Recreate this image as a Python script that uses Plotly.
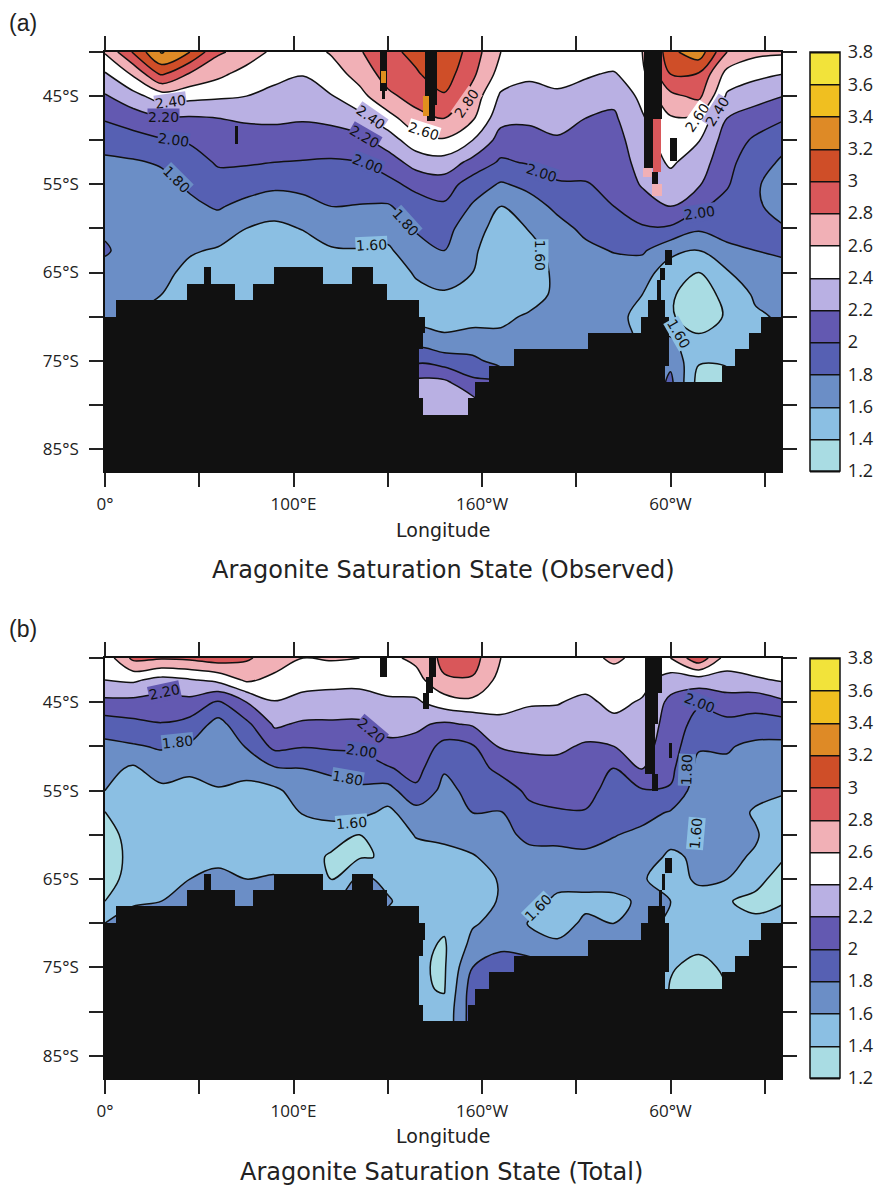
import numpy as np
import plotly.graph_objects as go

W, H = 877, 1187

lat_rows = [40, 42.5, 45, 47.5, 50, 52.5, 55, 57.5, 60, 62.5, 65, 67.5, 70, 72.5, 75, 77.5, 80, 82.5]
lon_cols = [0, 15, 30, 45, 60, 75, 90, 105, 120, 135, 150, 165, 180, 195, 210, 225, 240, 255, 270, 285, 300, 315, 330, 345, 360]

# Observed: value per latitude row, one list per longitude
obs_000 = [2.62,2.38,2.18,2.02,1.88,1.76,1.72,1.70,1.76,1.83,1.72,1.68,1.66,1.60,1.60,1.60,1.60,1.60]
obs_015 = [3.02,2.63,2.33,2.10,1.92,1.78,1.72,1.70,1.70,1.69,1.67,1.65,1.60,1.60,1.60,1.60,1.60,1.60]
obs_030 = [3.42,3.03,2.50,2.18,1.98,1.82,1.74,1.72,1.70,1.68,1.65,1.60,1.55,1.55,1.55,1.55,1.55,1.55]
obs_045 = [3.20,2.78,2.46,2.18,2.02,1.92,1.83,1.76,1.68,1.62,1.55,1.50,1.50,1.50,1.50,1.50,1.50,1.50]
obs_060 = [2.83,2.65,2.43,2.20,2.10,2.02,1.93,1.82,1.70,1.58,1.50,1.48,1.48,1.48,1.48,1.48,1.48,1.48]
obs_075 = [2.72,2.52,2.40,2.23,2.10,2.02,1.89,1.74,1.60,1.50,1.47,1.45,1.45,1.45,1.45,1.45,1.45,1.45]
obs_090 = [2.55,2.47,2.33,2.24,2.10,2.00,1.84,1.70,1.55,1.47,1.45,1.45,1.45,1.45,1.45,1.45,1.45,1.45]
obs_105 = [2.50,2.41,2.30,2.22,2.10,1.99,1.86,1.73,1.61,1.50,1.45,1.45,1.45,1.45,1.45,1.45,1.45,1.45]
obs_120 = [2.62,2.50,2.39,2.25,2.10,1.98,1.89,1.80,1.70,1.58,1.50,1.45,1.45,1.45,1.45,1.45,1.45,1.45]
obs_135 = [2.78,2.68,2.53,2.34,2.14,2.00,1.90,1.79,1.69,1.59,1.52,1.47,1.47,1.47,1.47,1.47,1.47,1.47]
obs_150 = [2.95,2.88,2.76,2.52,2.30,2.10,1.94,1.78,1.68,1.57,1.50,1.47,1.47,1.47,1.47,1.47,1.47,1.47]
obs_165 = [3.05,2.98,2.87,2.74,2.52,2.28,2.06,1.90,1.82,1.72,1.62,1.55,1.52,1.70,1.95,2.25,2.30,2.30]
obs_180 = [3.18,3.10,2.98,2.80,2.58,2.32,2.10,1.97,1.87,1.80,1.68,1.58,1.55,1.62,1.90,2.25,2.30,2.30]
obs_195 = [2.90,2.84,2.72,2.63,2.40,2.14,1.90,1.78,1.68,1.63,1.60,1.50,1.55,1.65,1.85,2.05,2.30,2.30]
obs_210 = [2.60,2.52,2.37,2.26,2.12,1.97,1.78,1.60,1.52,1.48,1.47,1.48,1.55,1.65,1.72,2.00,2.00,2.00]
obs_225 = [2.56,2.43,2.34,2.24,2.12,2.02,1.85,1.72,1.61,1.52,1.48,1.50,1.63,1.70,1.70,1.70,1.70,1.70]
obs_240 = [2.58,2.48,2.36,2.27,2.18,2.09,1.98,1.84,1.74,1.68,1.65,1.65,1.68,1.70,1.70,1.70,1.70,1.70]
obs_255 = [2.55,2.42,2.33,2.20,2.13,2.06,1.99,1.93,1.84,1.76,1.72,1.70,1.70,1.70,1.70,1.70,1.70,1.70]
obs_270 = [2.55,2.38,2.25,2.17,2.12,2.08,2.04,2.00,1.90,1.81,1.72,1.66,1.62,1.65,1.65,1.65,1.65,1.65]
obs_285 = [2.60,2.55,2.45,2.38,2.32,2.28,2.22,2.10,1.98,1.83,1.68,1.60,1.58,1.58,1.58,1.58,1.58,1.58]
obs_300 = [3.15,3.00,2.75,2.58,2.50,2.43,2.32,2.20,1.97,1.65,1.50,1.42,1.42,1.62,1.75,1.85,1.85,1.85]
obs_315 = [3.32,2.98,2.85,2.55,2.41,2.30,2.22,2.03,1.83,1.60,1.40,1.32,1.30,1.43,1.42,1.32,1.32,1.32]
obs_330 = [2.80,2.53,2.37,2.20,2.10,2.06,2.02,1.93,1.85,1.77,1.58,1.45,1.42,1.45,1.42,1.35,1.35,1.35]
obs_345 = [2.65,2.45,2.28,2.10,1.97,1.88,1.82,1.82,1.82,1.80,1.72,1.63,1.57,1.55,1.55,1.55,1.55,1.55]
obs_360 = [2.63,2.40,2.20,2.02,1.85,1.77,1.72,1.75,1.81,1.83,1.74,1.68,1.63,1.60,1.60,1.60,1.60,1.60]

# Total: value per latitude row, one list per longitude
tot_000 = [2.48,2.40,2.15,1.90,1.75,1.66,1.60,1.39,1.36,1.35,1.36,1.40,1.60,1.60,1.60,1.60,1.60,1.60]
tot_015 = [2.85,2.43,2.14,1.95,1.78,1.57,1.50,1.48,1.44,1.43,1.44,1.57,1.70,1.70,1.70,1.70,1.70,1.70]
tot_030 = [2.82,2.33,2.12,1.99,1.82,1.70,1.55,1.50,1.48,1.50,1.52,1.60,1.70,1.70,1.70,1.70,1.70,1.70]
tot_045 = [2.84,2.38,2.14,1.93,1.77,1.63,1.55,1.52,1.50,1.52,1.60,1.72,1.72,1.72,1.72,1.72,1.72,1.72]
tot_060 = [2.90,2.45,1.97,1.73,1.70,1.65,1.59,1.52,1.50,1.55,1.65,1.70,1.70,1.70,1.70,1.70,1.70,1.70]
tot_075 = [2.83,2.63,2.20,1.95,1.81,1.66,1.55,1.50,1.50,1.52,1.60,1.72,1.72,1.72,1.72,1.72,1.72,1.72]
tot_090 = [2.70,2.55,2.39,2.23,2.05,1.78,1.56,1.50,1.48,1.52,1.62,1.70,1.70,1.70,1.70,1.70,1.70,1.70]
tot_105 = [2.60,2.47,2.34,2.17,2.01,1.80,1.70,1.61,1.52,1.50,1.55,1.60,1.60,1.60,1.60,1.60,1.60,1.60]
tot_120 = [2.62,2.46,2.32,2.17,2.03,1.84,1.72,1.66,1.50,1.37,1.39,1.55,1.55,1.55,1.55,1.55,1.55,1.55]
tot_135 = [2.60,2.46,2.31,2.17,2.04,1.90,1.76,1.66,1.40,1.38,1.65,1.70,1.70,1.70,1.70,1.70,1.70,1.70]
tot_150 = [2.55,2.48,2.37,2.27,2.15,1.98,1.72,1.55,1.50,1.42,1.55,1.62,1.55,1.55,1.55,1.55,1.55,1.55]
tot_165 = [2.65,2.52,2.37,2.23,2.15,2.07,1.96,1.72,1.61,1.54,1.50,1.50,1.52,1.45,1.42,1.42,1.45,1.45]
tot_180 = [2.85,2.78,2.50,2.17,1.93,1.82,1.74,1.68,1.63,1.56,1.50,1.48,1.43,1.38,1.38,1.39,1.45,1.45]
tot_195 = [2.88,2.78,2.55,2.22,1.98,1.92,1.86,1.80,1.72,1.58,1.50,1.50,1.58,1.66,1.80,1.90,1.90,1.90]
tot_210 = [2.60,2.53,2.45,2.36,2.22,2.05,1.90,1.79,1.75,1.70,1.62,1.62,1.66,1.78,1.85,1.95,1.95,1.95]
tot_225 = [2.58,2.50,2.42,2.32,2.23,2.14,2.04,1.95,1.84,1.75,1.70,1.66,1.59,1.75,1.85,1.85,1.85,1.85]
tot_240 = [2.56,2.48,2.41,2.33,2.23,2.15,2.08,1.98,1.87,1.73,1.65,1.57,1.53,1.63,1.85,1.85,1.85,1.85]
tot_255 = [2.55,2.47,2.36,2.28,2.18,2.10,2.05,1.99,1.87,1.76,1.66,1.56,1.63,1.75,1.75,1.75,1.75,1.75]
tot_270 = [2.63,2.52,2.45,2.35,2.20,1.99,1.94,1.88,1.81,1.72,1.65,1.57,1.60,1.60,1.60,1.60,1.60,1.60]
tot_285 = [2.55,2.47,2.38,2.32,2.27,2.22,1.98,1.87,1.75,1.68,1.61,1.62,1.70,1.70,1.70,1.70,1.70,1.70]
tot_300 = [2.60,2.30,2.15,2.12,2.10,2.05,1.98,1.78,1.66,1.57,1.55,1.60,1.55,1.50,1.42,1.38,1.38,1.38]
tot_315 = [2.95,2.30,2.03,1.92,1.82,1.74,1.68,1.61,1.62,1.63,1.62,1.55,1.50,1.45,1.33,1.33,1.33,1.33]
tot_330 = [2.50,2.33,2.10,1.95,1.82,1.76,1.72,1.68,1.66,1.64,1.60,1.41,1.41,1.50,1.44,1.40,1.40,1.40]
tot_345 = [2.55,2.37,2.07,1.93,1.75,1.70,1.65,1.58,1.62,1.58,1.45,1.36,1.43,1.50,1.50,1.50,1.50,1.50]
tot_360 = [2.60,2.42,2.17,1.92,1.75,1.70,1.62,1.52,1.47,1.41,1.33,1.39,1.47,1.50,1.50,1.50,1.50,1.50]

obs_columns = [obs_000,obs_015,obs_030,obs_045,obs_060,obs_075,obs_090,obs_105,obs_120,obs_135,obs_150,obs_165,obs_180,
               obs_195,obs_210,obs_225,obs_240,obs_255,obs_270,obs_285,obs_300,obs_315,obs_330,obs_345,obs_360]
tot_columns = [tot_000,tot_015,tot_030,tot_045,tot_060,tot_075,tot_090,tot_105,tot_120,tot_135,tot_150,tot_165,tot_180,
               tot_195,tot_210,tot_225,tot_240,tot_255,tot_270,tot_285,tot_300,tot_315,tot_330,tot_345,tot_360]

# Antarctic land mask: southernmost ocean latitude per longitude band
coast_lon_edges = [0,5.7,43.3,52.5,56.2,69,78.5,89.7,115.6,131,142.2,149.6,166.6,168.7,192.6,196.3,203.7,217,256.2,284.4,288,297,327.3,334.2,341.6,348,358.6]
coast_lat = [70,68.1,66.25,64.4,66.25,68.1,66.25,64.4,66.25,64.4,66.25,68.1,79.2,81.1,79.2,77.4,75.55,73.7,71.85,70,68.1,77.4,75.55,73.7,71.85,70]

# extra masked cells (lon0, lon1, lat0, lat1, kind)
coast_extra = [(166.6,170,70,71.85,"k"),(166.6,168.7,71.85,73.7,"k"),(297,299,70,75.55,"k")]
obs_cells = [(145.9,149.6,40,44.4,"k"),(146.8,148.7,44.4,45.3,"k"),(146.4,149.1,42.2,43.5,"o"),
             (169.8,176.1,40,46,"k"),(171,175,46,47.8,"k"),(168.5,172,45,47.3,"o"),
             (285.9,295.5,40,47.6,"k"),(285.9,290.8,47.6,53.1,"k"),(290.8,295,47.6,53.6,"r"),
             (285.5,290.2,53.1,54.2,"p"),(290.2,293.4,53.6,55,"k"),(290.2,295.5,55,56.3,"p"),
             (297.1,300.8,62.5,64.2,"k"),(294.4,297.1,64.5,65.9,"k"),(293,295,65.9,68.1,"k"),
             (299.7,303.4,49.75,52.35,"k"),(68.7,70.3,48.4,50.4,"k")]
tot_cells = [(145.9,149.6,40,42.1,"k"),(171.9,175.6,40,42.1,"k"),(170.3,174,42.1,44,"k"),(168.7,171.9,44,45.8,"k"),
             (286.5,295.5,40,44,"k"),(286.5,293.4,44,47.5,"k"),(286.5,291.8,47.5,53.1,"k"),(290.2,293.4,53.1,55,"k"),
             (299.2,300.8,49.6,51.3,"k"),(297.1,300.8,62.6,64.3,"k"),(295.5,297.1,64.4,66.2,"k"),(293.9,295.5,66.2,68.1,"k")]
cell_colors = {"k": "#111111", "o": "#E08F1E", "r": "#D9575A", "p": "#F1B0B6"}

band_colors = ["#A9DCE3","#8BBFE3","#6B8EC6","#5660B3","#6359B1","#B9B0E3","#FFFFFF",
               "#F1B0B6","#D9575A","#CF4E28","#DE8A26","#F0BF20","#F2E33A"]
bar_levels = [1.2,1.4,1.6,1.8,2.0,2.2,2.4,2.6,2.8,3.0,3.2,3.4,3.6,3.8]
bar_labels = ["1.2","1.4","1.6","1.8","2","2.2","2.4","2.6","2.8","3","3.2","3.4","3.6","3.8"]

lat_ticks = [40,45,50,55,60,65,70,75,80,85]
lat_ticktext = ["","45°S","","55°S","","65°S","","75°S","","85°S"]
lon_ticks = [0,50,100,150,200,250,300,350]
lon_ticktext = ["0°","","100°E","","160°W","","60°W",""]

# contour labels: lon, lat, text, angle
obs_labels = [(34.5,45.7,"2.40",-8),(30.8,47.4,"2.20",0),(36.6,50.0,"2.00",8),(37.7,54.4,"1.80",45),
              (140.6,47.4,"2.40",35),(137.9,49.6,"2.20",30),(139.5,52.7,"2.00",22),(168.7,49.0,"2.60",18),
              (159.2,59.3,"1.80",48),(141.6,61.9,"1.60",-3),(192.0,45.8,"2.80",-55),(230.8,63.0,"1.60",90),
              (231.8,53.7,"2.00",18),(315.1,58.3,"2.00",-8),(314.1,47.5,"2.60",-55),(324.7,46.8,"2.40",-58),
              (304.0,71.9,"1.60",60)]
tot_labels = [(31.3,43.9,"2.20",-12),(38.7,49.5,"1.80",-6),(141.6,48.2,"2.20",40),(135.8,50.5,"2.00",8),
              (128.4,53.6,"1.80",10),(131.0,58.7,"1.60",-5),(315.6,45.1,"2.00",22),(308.8,52.7,"1.80",-88),
              (313.5,59.8,"1.60",-85),(229.7,68.3,"1.60",-45)]

X_LEFT, X_RIGHT = 105, 781
PANELS = [(52, 471), (658, 1078)]
LON_MAX, LAT_SOUTH = 358.6, 87.5

# Plotly samples the fill of band i at (i + 0.5) / 12, and the top band at the very end of the scale
colorscale = []
for i, c in enumerate(band_colors[:11]):
    colorscale.append([i / 12, c])
    colorscale.append([(i + 1) / 12, c])
colorscale += [[11 / 12, band_colors[11]], [0.995, band_colors[11]], [0.995, band_colors[12]], [1, band_colors[12]]]


def mask_bars(cells, xa, ya):
    rects = [(coast_lon_edges[i], coast_lon_edges[i + 1], c, LAT_SOUTH, "k") for i, c in enumerate(coast_lat)]
    rects += coast_extra + cells
    return go.Bar(x=[(r[0] + r[1]) / 2 for r in rects], width=[r[1] - r[0] for r in rects],
                  base=[-r[2] for r in rects], y=[r[2] - r[3] for r in rects], xaxis=xa, yaxis=ya,
                  marker=dict(color=[cell_colors[r[4]] for r in rects], line=dict(width=0)), hoverinfo="skip")


fig = go.Figure()
panels = [(obs_columns, obs_cells, "x", "y"), (tot_columns, tot_cells, "x2", "y2")]
for k, (columns, cells, xa, ya) in enumerate(panels):
    top, bottom = PANELS[k]
    fig.add_trace(go.Contour(
        x=lon_cols, y=[-v for v in lat_rows], z=np.array(columns).T.tolist(), xaxis=xa, yaxis=ya,
        zmin=1.2, zmax=3.8, zauto=False, colorscale=colorscale,
        contours=dict(start=1.2, end=3.8, size=0.2, coloring="fill", showlabels=False),
        line=dict(color="#111111", width=1.5, smoothing=1.0), hoverinfo="skip",
        colorbar=dict(x=810 / W, xanchor="left", xref="paper", y=1 - (top + bottom) / 2 / H, yanchor="middle",
                      yref="paper", len=(bottom - top) / H, lenmode="fraction", thickness=30, thicknessmode="pixels",
                      xpad=0, ypad=0, outlinecolor="#111111", outlinewidth=1.5, tickmode="array",
                      tickvals=bar_levels, ticktext=bar_labels, ticks="outside", ticklen=4, tickcolor="rgba(0,0,0,0)",
                      tickfont=dict(family="Open Sans", size=18, color="#222222")),
    ))
    fig.add_trace(mask_bars(cells, xa, ya))

axis_common = dict(showgrid=False, zeroline=False, showline=True, linecolor="#111111", linewidth=1.5,
                   ticks="outside", ticklen=14, tickwidth=1.5, tickcolor="#222222", mirror="allticks",
                   tickfont=dict(family="Open Sans", size=17, color="#222222"))
for k, suffix in enumerate(["", "2"]):
    top, bottom = PANELS[k]
    fig.update_layout({
        f"xaxis{suffix}": dict(axis_common, domain=[X_LEFT / W, X_RIGHT / W], range=[0, LON_MAX], anchor=f"y{suffix}",
                               tickmode="array", tickvals=lon_ticks, ticktext=lon_ticktext, ticklabelstandoff=3),
        f"yaxis{suffix}": dict(axis_common, domain=[1 - bottom / H, 1 - top / H], range=[-LAT_SOUTH, -40],
                               anchor=f"x{suffix}", tickmode="array", tickvals=[-v for v in lat_ticks],
                               ticktext=lat_ticktext, ticklabelstandoff=7),
    })

annotations = []


def text_px(x, y, text, family, size):
    annotations.append(dict(x=x / W, y=1 - y / H, xref="paper", yref="paper", text=text, showarrow=False,
                            xanchor="center", yanchor="middle", font=dict(family=family, size=size, color="#222222")))


text_px(23, 23, "(a)", "Liberation Sans", 23)
text_px(23, 629, "(b)", "Liberation Sans", 23)
text_px(443, 530, "Longitude", "DejaVu Sans", 19)
text_px(443, 1136, "Longitude", "DejaVu Sans", 19)
text_px(443, 570, "Aragonite Saturation State (Observed)", "DejaVu Sans", 24)
text_px(442, 1172, "Aragonite Saturation State (Total)", "DejaVu Sans", 24)

for labels, xa, ya in [(obs_labels, "x", "y"), (tot_labels, "x2", "y2")]:
    for lon, lat, text, ang in labels:
        band = max(0, bar_levels.index(float(text)) - 1)
        annotations.append(dict(x=lon, y=-lat, xref=xa, yref=ya, text=text, textangle=ang, showarrow=False,
                                bgcolor=band_colors[band], borderpad=0,
                                font=dict(family="DejaVu Sans", size=14, color="#111111")))

fig.update_layout(width=W, height=H, margin=dict(l=0, r=0, t=0, b=0, autoexpand=False), paper_bgcolor="white",
                  plot_bgcolor="white", showlegend=False, annotations=annotations, barmode="overlay", bargap=0)

fig.write_html("out.html", config={"displayModeBar": False}, post_script="document.body.style.margin='0';")
